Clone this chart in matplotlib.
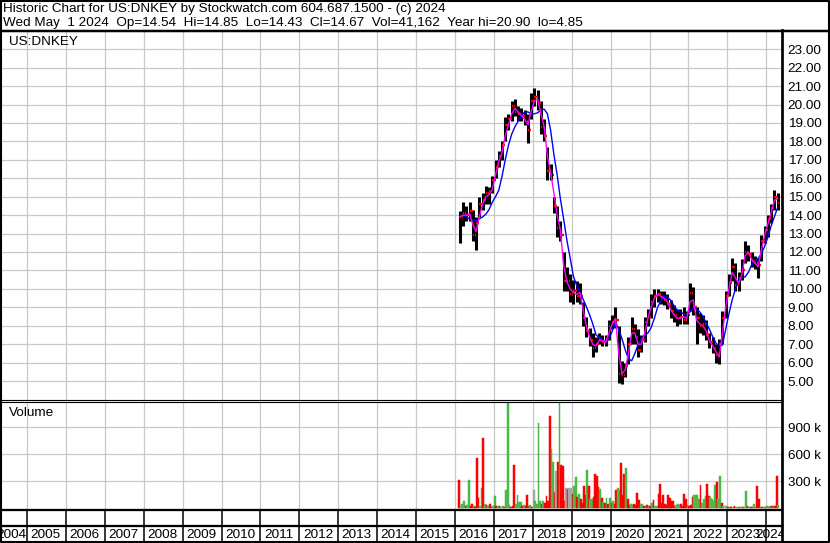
import numpy as np
import matplotlib
matplotlib.use("Agg")
import matplotlib.pyplot as plt

# monthly price bars, Feb 2016 .. Apr 2024
hi = [14.2, 14.7, 14.5, 14.7, 14.3, 13.9, 15.0, 15.2, 15.6, 15.5, 16.1,
      17.0, 17.5, 18.0, 19.3, 19.5, 20.2, 20.3, 19.9, 19.8, 19.7, 19.5, 20.6,
      20.9, 20.8, 20.2, 19.2, 17.7, 16.8, 15.0, 14.5, 13.7, 12.0, 11.2, 10.8,
      10.5, 10.4, 10.3, 9.3, 8.5, 7.9, 7.6, 7.4, 7.6, 7.5, 7.5, 8.3,
      8.6, 9.0, 8.0, 6.1, 6.0, 7.4, 8.5, 8.1, 7.8, 7.5, 8.5, 8.9,
      9.7, 10.0, 10.0, 9.9, 9.9, 9.7, 9.4, 9.1, 8.9, 8.9, 9.0, 8.8,
      10.3, 10.1, 9.0, 8.7, 8.6, 8.3, 7.6, 7.4, 7.0, 7.3, 8.8, 9.9,
      10.8, 11.7, 11.4, 10.9, 11.6, 12.6, 12.4, 12.0, 11.8, 11.7, 12.9, 13.4,
      14.0, 14.6, 15.35, 15.2]
lo = [12.5, 13.4, 13.7, 13.7, 12.6, 12.1, 13.9, 14.3, 14.6, 14.6, 15.2,
      16.0, 16.6, 17.0, 18.0, 18.6, 19.1, 19.4, 19.1, 19.1, 18.9, 17.9, 19.2,
      19.9, 19.7, 18.4, 18.0, 15.9, 15.9, 14.1, 12.8, 12.6, 9.9, 9.9, 9.3,
      9.2, 9.3, 9.2, 8.0, 7.4, 6.9, 6.3, 6.6, 7.0, 6.9, 6.9, 7.2,
      7.8, 7.9, 4.9, 4.85, 5.2, 5.9, 7.0, 7.0, 6.3, 6.6, 7.1, 8.0,
      8.4, 9.0, 9.3, 9.2, 9.1, 8.9, 8.4, 8.2, 8.0, 8.1, 8.1, 8.1,
      8.8, 8.6, 7.0, 7.6, 7.5, 7.2, 6.8, 6.5, 6.0, 5.95, 7.0, 8.4,
      9.6, 10.4, 9.9, 9.9, 10.5, 11.4, 11.5, 11.2, 11.1, 10.6, 11.5, 12.5,
      12.8, 13.6, 14.3, 14.3]
cl = [13.9, 14.1, 14.0, 14.2, 12.9, 13.6, 14.6, 14.8, 15.2, 15.3, 15.9,
      16.6, 17.2, 17.8, 18.9, 19.2, 19.9, 19.6, 19.5, 19.4, 19.1, 18.6, 20.2,
      20.4, 20.1, 18.8, 18.3, 16.4, 16.2, 14.5, 13.3, 12.9, 10.4, 10.4, 9.7,
      9.9, 9.6, 9.6, 8.4, 7.7, 7.2, 6.8, 7.0, 7.3, 7.1, 7.3, 8.0,
      8.2, 8.3, 5.4, 5.3, 5.8, 7.0, 7.8, 7.4, 6.7, 7.2, 8.2, 8.5,
      9.3, 9.6, 9.7, 9.5, 9.4, 9.2, 8.8, 8.6, 8.4, 8.5, 8.3, 8.6,
      9.8, 9.0, 8.4, 8.0, 8.1, 7.5, 7.1, 6.8, 6.4, 7.0, 8.4, 9.6,
      10.3, 11.2, 10.2, 10.6, 11.0, 12.0, 11.9, 11.5, 11.4, 11.3, 12.6, 13.2,
      13.8, 14.4, 15.0, 14.67]
ma_short = [13.9, 14.0, 14.0, 14.1, 13.5, 13.1, 13.9, 14.6, 15.0, 15.1, 15.4,
            16.2, 16.9, 17.4, 18.3, 18.9, 19.5, 19.8, 19.6, 19.4, 19.2, 18.9, 19.6,
            20.2, 20.3, 19.5, 18.8, 17.2, 16.3, 15.2, 14.0, 13.2, 11.3, 10.4, 10.0,
            9.8, 9.7, 9.8, 8.9, 8.0, 7.4, 7.0, 6.9, 7.2, 7.2, 7.1, 7.6,
            8.1, 8.4, 6.5, 5.4, 5.6, 6.5, 7.6, 7.6, 7.0, 7.0, 7.6, 8.4,
            9.0, 9.5, 9.7, 9.6, 9.5, 9.3, 8.9, 8.6, 8.4, 8.4, 8.5, 8.4,
            9.3, 9.4, 8.3, 8.1, 8.0, 7.7, 7.2, 6.9, 6.6, 6.3, 7.6, 9.0,
            10.0, 10.9, 10.6, 10.3, 10.8, 11.8, 12.0, 11.6, 11.4, 11.2, 12.1, 12.9,
            13.5, 14.1, 14.8, 14.9]
ma_long = [np.nan, 14.0, 13.9, 13.8, 13.75, 13.7, 13.8, 13.9, 14.05, 14.3, 14.7,
           15.0, 15.35, 16.1, 17.0, 17.8, 18.4, 18.8, 19.1, 19.4, 19.6, 19.6, 19.5,
           19.5, 19.55, 19.7, 19.75, 19.5, 18.6, 17.3, 16.2, 14.9, 13.8, 12.65, 11.7,
           10.7, 10.2, 9.85, 9.45, 9.05, 8.6, 8.1, 7.5, 7.35, 7.25, 7.1, 7.3,
           7.7, 8.2, 7.8, 7.3, 6.7, 6.2, 6.1, 6.5, 7.0, 7.3, 7.5, 7.6,
           7.9, 8.4, 9.0, 9.35, 9.6, 9.55, 9.4, 9.1, 8.85, 8.75, 8.65, 8.65,
           8.75, 8.95, 8.9, 8.75, 8.5, 8.15, 7.8, 7.4, 7.05, 6.9, 6.95, 7.8,
           8.65, 9.4, 10.0, 10.45, 10.6, 10.65, 10.9, 11.3, 11.5, 11.65, 11.9, 12.3,
           12.8, 13.4, 13.9, 14.4]

# half-month volume (thousands), Feb 2016 .. Apr 2024; r=down g=up x=unchanged
vol = [307, 15, 40, 79, 20, 30, 307, 20, 40, 20,
       15, 553, 109, 20, 223, 782, 40, 30, 25, 40,
       15, 20, 131, 20, 25, 20, 10, 20, 15, 200,
       1250, 30, 15, 20, 477, 50, 143, 70, 70, 20,
       30, 20, 143, 20, 30, 15, 200, 80, 40, 941,
       80, 40, 80, 60, 136, 80, 1021, 656, 508, 174,
       409, 516, 1250, 477, 466, 80, 223, 212, 219, 219,
       155, 250, 345, 120, 155, 100, 60, 250, 140, 421,
       250, 100, 100, 120, 383, 356, 231, 212, 115, 70,
       60, 115, 50, 115, 60, 80, 50, 204, 220, 205,
       496, 150, 383, 440, 100, 30, 40, 35, 40, 30,
       167, 87, 50, 40, 25, 20, 30, 20, 25, 52,
       85, 25, 20, 155, 269, 60, 144, 40, 30, 144,
       110, 80, 75, 25, 30, 50, 30, 40, 20, 155,
       100, 30, 20, 30, 127, 144, 144, 144, 100, 258,
       60, 100, 130, 269, 135, 120, 100, 80, 258, 288,
       100, 356, 60, 25, 20, 20, 15, 10, 15, 10,
       20, 10, 15, 10, 15, 10, 15, 189, 20, 10,
       15, 10, 40, 10, 242, 105, 10, 15, 10, 15,
       20, 15, 20, 25, 25, 20, 356, 30]
vol_dir = ("rgggrggrrg" "rrrggrgrgr" "rggrgrggrg" "ggrrrggggr" "grrrgrxggg"
           "grgrrrrggr" "xrgrrrxrxx" "rggrgrrrrg" "rggrrrrgrg" "rgrgrgrrgg"
           "rrrgrrggrr" "rrggrgrgrg" "rggrrrrrrr" "rrrrgggrrr" "rgrrrggggr"
           "gggrrggggr" "ggrgxgrgrg" "rggrgrggrg" "rrggrrgrgr" "grgrgrrg")

years = list(range(2004, 2025))
price_ticks = list(range(5, 24))
vol_ticks = [300, 600, 900]

header1 = "Historic Chart for US:DNKEY by Stockwatch.com 604.687.1500 - (c) 2024"
header2 = ("Wed May  1 2024  Op=14.54  Hi=14.85  Lo=14.43  Cl=14.67  "
           "Vol=41,162  Year hi=20.90  lo=4.85")

W, H = 830, 543
FONT = "Liberation Sans"
FS = 9.7
GRID = "#c8c8c8"
X0, X1 = 2004.355, 2024.406
PXY = 38.9  # pixels per year

fig = plt.figure(figsize=(W / 100, H / 100), dpi=100)
fig.patch.set_facecolor("white")


def px_axes(x0, y0, x1, y1):
    a = fig.add_axes([x0 / W, 1 - y1 / H, (x1 - x0) / W, (y1 - y0) / H])
    for s in a.spines.values():
        s.set_visible(False)
    a.set_xlim(X0, X1)
    return a


ax = px_axes(2, 31, 782, 400)
axv = px_axes(2, 402, 782, 510)
axt = px_axes(2, 510, 782, 526)
axl = px_axes(2, 526, 782, 543)

# ---- price panel
mx = 2016 + (np.arange(1, len(hi) + 1) + 0.5) / 12
ax.set_ylim(3.97, 23.99)
ax.set_xticks(years[1:])
ax.set_yticks(price_ticks)
ax.grid(True, color=GRID, lw=0.9, zorder=0)
ax.set_axisbelow(True)
ax.tick_params(axis="x", length=0, labelbottom=False)
ax.yaxis.tick_right()
ax.set_yticklabels([f"{v:.2f}" for v in price_ticks], fontfamily=FONT, fontsize=FS)
ax.tick_params(axis="y", length=0, pad=4)

ax.vlines(mx, lo, hi, colors="black", lw=2.2, zorder=2)
ax.hlines(cl, mx, mx + 0.035, colors="red", lw=1.7, zorder=3)
ax.hlines(cl[:-1], mx[1:] - 0.035, mx[1:], colors="red", lw=1.7, zorder=3)
ax.plot(mx, ma_long, color="#0000ff", lw=1.0, zorder=4)
ax.plot(mx, ma_short, color="#ff00ff", lw=1.0, zorder=5)
ax.text(0.009, 0.97, "US:DNKEY", transform=ax.transAxes, ha="left", va="center",
        fontfamily=FONT, fontsize=FS)

# ---- volume panel
vx = 2016 + 1 / 12 + (np.arange(len(vol)) + 0.5) / 24
cmap = {"r": "#ff0000", "g": "#4cb848", "x": "#a8a8a8"}
bar_cols = [cmap[c] for c in vol_dir]
axv.set_ylim(-22, 1180)
axv.set_xticks(years[1:])
axv.set_yticks(vol_ticks)
axv.grid(True, color=GRID, lw=0.9, zorder=0)
axv.set_axisbelow(True)
axv.tick_params(axis="x", length=0, labelbottom=False)
axv.yaxis.tick_right()
axv.set_yticklabels([f"{v} k" for v in vol_ticks], fontfamily=FONT, fontsize=FS)
axv.tick_params(axis="y", length=0, pad=4)
axv.bar(vx, vol, width=1 / 24 * 1.1, color=bar_cols, edgecolor=bar_cols,
        linewidth=0.35, zorder=2)
axv.text(0.009, 0.9, "Volume", transform=axv.transAxes, ha="left", va="center",
         fontfamily=FONT, fontsize=FS)

# ---- year strip and labels
for a in (axt, axl):
    a.set_ylim(0, 1)
    a.set_xticks([])
    a.set_yticks([])
    a.vlines(years[1:], 0, 1, colors="black", lw=1.1)
for y in years:
    if y == years[0]:
        axl.text(y + 1 - 0.5 / PXY, 0.45, str(y), ha="right", va="center",
                 fontfamily=FONT, fontsize=FS, clip_on=True)
    elif y == years[-1]:
        axl.text(X1 + 4 / PXY, 0.45, str(y), ha="right", va="center",
                 fontfamily=FONT, fontsize=FS, clip_on=True)
    else:
        axl.text(y + 3.5 / PXY, 0.45, str(y), ha="left", va="center",
                 fontfamily=FONT, fontsize=FS, clip_on=True)

# ---- frame and header
frame = fig.add_axes([0, 0, 1, 1], zorder=10)
frame.set_xlim(0, W)
frame.set_ylim(H, 0)
frame.axis("off")
frame.patch.set_alpha(0)
lw1 = 0.75
frame.plot([0.8, W - 1.5, W - 1.5, 0.8, 0.8], [0.8, 0.8, H - 1, H - 1, 0.8],
           color="black", lw=2 * lw1)
frame.plot([0, W], [30.5, 30.5], color="black", lw=2.4 * lw1)
frame.plot([781.5, 781.5], [30, H], color="black", lw=2.6 * lw1)
frame.plot([0, 782], [399.8, 399.8], color="black", lw=lw1 * 1.1)
frame.plot([0, 782], [401.8, 401.8], color="black", lw=lw1 * 1.1)
frame.plot([0, 782], [510, 510], color="black", lw=2.2 * lw1)
frame.plot([0, 782], [526, 526], color="black", lw=2.2 * lw1)
frame.text(3, 9, header1, ha="left", va="center", fontfamily=FONT, fontsize=FS)
frame.text(3, 23, header2, ha="left", va="center", fontfamily=FONT, fontsize=FS)

fig.savefig("out.png", dpi=100)
